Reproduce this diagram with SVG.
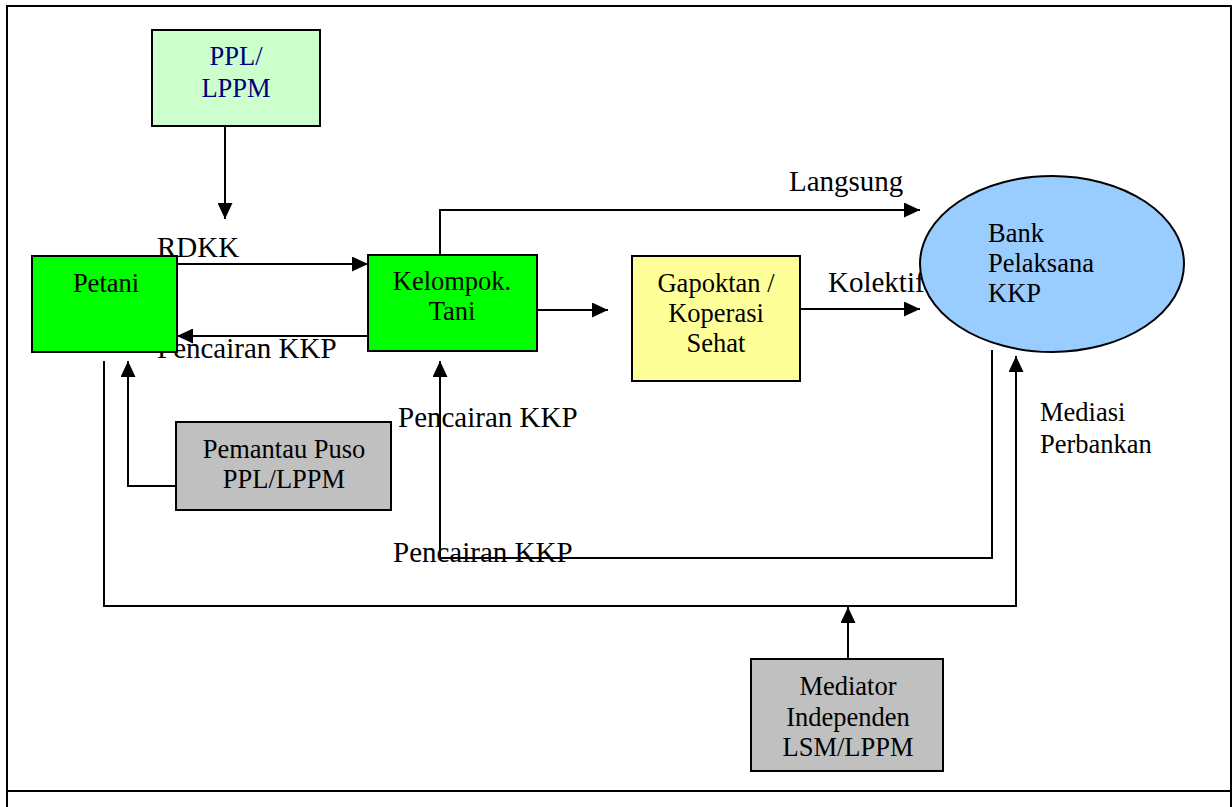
<svg xmlns="http://www.w3.org/2000/svg" width="1232" height="807" viewBox="0 0 1232 807" font-family="'Liberation Serif', 'Times New Roman', serif">
<style>
text{font-family:"Liberation Serif","Times New Roman",serif;fill:#000}
.lbl{font-size:29px}
.nt{font-size:26.5px;text-anchor:middle;font-family:"Liberation Serif","Times New Roman",serif}
.ns{font-size:26.5px;font-family:"Liberation Serif","Times New Roman",serif}
.box{stroke:#000;stroke-width:2}
.ln{fill:none;stroke:#000;stroke-width:2}
</style>
<defs>
<marker id="ah" markerUnits="userSpaceOnUse" markerWidth="17" markerHeight="15" refX="16" refY="7.5" orient="auto">
<path d="M0,0 L16,7.5 L0,15 z" fill="#000"/>
</marker>
</defs>
<rect width="1232" height="807" fill="#fff"/>
<g id="frame" class="ln">
<line x1="7" y1="6" x2="1231" y2="6"/>
<line x1="7" y1="5" x2="7" y2="807"/>
<line x1="1231" y1="5" x2="1231" y2="807"/>
<line x1="7" y1="791" x2="1231" y2="791"/>
</g>
<g id="labels" font-family="'Liberation Serif', serif">
<text class="lbl" x="157" y="257">RDKK</text>
<text class="lbl" x="157" y="358">Pencairan KKP</text>
<text class="lbl" x="789" y="191">Langsung</text>
<text class="lbl" x="828" y="292">Kolektif</text>
<text class="lbl" x="398" y="427">Pencairan KKP</text>
<text class="lbl" x="393" y="562">Pencairan KKP</text>
<text class="ns" x="1040" y="421">Mediasi</text>
<text class="ns" x="1040" y="453">Perbankan</text>
</g>
<g id="connectors" class="ln">
<line x1="225" y1="126" x2="225" y2="219" marker-end="url(#ah)"/>
<line x1="177" y1="264" x2="368" y2="264" marker-end="url(#ah)"/>
<line x1="368" y1="336" x2="177" y2="336" marker-end="url(#ah)"/>
<polyline points="440,255 440,210 920,210" marker-end="url(#ah)"/>
<line x1="537" y1="310" x2="608" y2="310" marker-end="url(#ah)"/>
<line x1="800" y1="309" x2="920" y2="309" marker-end="url(#ah)"/>
<polyline points="175,486 128,486 128,361" marker-end="url(#ah)"/>
<polyline points="992,350 992,558 440,558 440,361" marker-end="url(#ah)"/>
<polyline points="104,361 104,606 1016,606 1016,356" marker-end="url(#ah)"/>
<line x1="848" y1="659" x2="848" y2="607" marker-end="url(#ah)"/>
</g>
<g id="ppl" font-family="'Liberation Serif', serif">
<rect class="box" x="152" y="30" width="168" height="96" fill="#ccffcc"/>
<text class="nt" font-family="'Liberation Serif', serif" x="236" y="65" style="fill:#000080">PPL/</text>
<text class="nt" font-family="'Liberation Serif', serif" x="236" y="97" style="fill:#000080">LPPM</text>
</g>
<g id="petani" font-family="'Liberation Serif', serif">
<rect class="box" x="32" y="256" width="145" height="96" fill="#00ff00"/>
<text class="nt" font-family="'Liberation Serif', serif" x="106" y="292">Petani</text>
</g>
<g id="kelompok" font-family="'Liberation Serif', serif">
<rect class="box" x="368" y="255" width="169" height="96" fill="#00ff00"/>
<text class="nt" font-family="'Liberation Serif', serif" x="452" y="290">Kelompok.</text>
<text class="nt" font-family="'Liberation Serif', serif" x="452" y="320">Tani</text>
</g>
<g id="gapoktan" font-family="'Liberation Serif', serif">
<rect class="box" x="632" y="256" width="168" height="125" fill="#ffff99"/>
<text class="nt" font-family="'Liberation Serif', serif" x="716" y="292">Gapoktan /</text>
<text class="nt" font-family="'Liberation Serif', serif" x="716" y="322">Koperasi</text>
<text class="nt" font-family="'Liberation Serif', serif" x="716" y="352">Sehat</text>
</g>
<g id="bank" font-family="'Liberation Serif', serif">
<ellipse class="box" cx="1052" cy="264" rx="132" ry="88" fill="#99ccff"/>
<text class="ns" font-family="'Liberation Serif', serif" x="988" y="242">Bank</text>
<text class="ns" font-family="'Liberation Serif', serif" x="988" y="272">Pelaksana</text>
<text class="ns" font-family="'Liberation Serif', serif" x="988" y="302">KKP</text>
</g>
<g id="pemantau" font-family="'Liberation Serif', serif">
<rect class="box" x="176" y="422" width="215" height="88" fill="#c0c0c0"/>
<text class="nt" font-family="'Liberation Serif', serif" x="284" y="458">Pemantau Puso</text>
<text class="nt" font-family="'Liberation Serif', serif" x="284" y="488">PPL/LPPM</text>
</g>
<g id="mediator" font-family="'Liberation Serif', serif">
<rect class="box" x="751" y="659" width="192" height="112" fill="#c0c0c0"/>
<text class="nt" font-family="'Liberation Serif', serif" x="848" y="695">Mediator</text>
<text class="nt" font-family="'Liberation Serif', serif" x="848" y="726">Independen</text>
<text class="nt" font-family="'Liberation Serif', serif" x="848" y="756">LSM/LPPM</text>
</g>
</svg>
